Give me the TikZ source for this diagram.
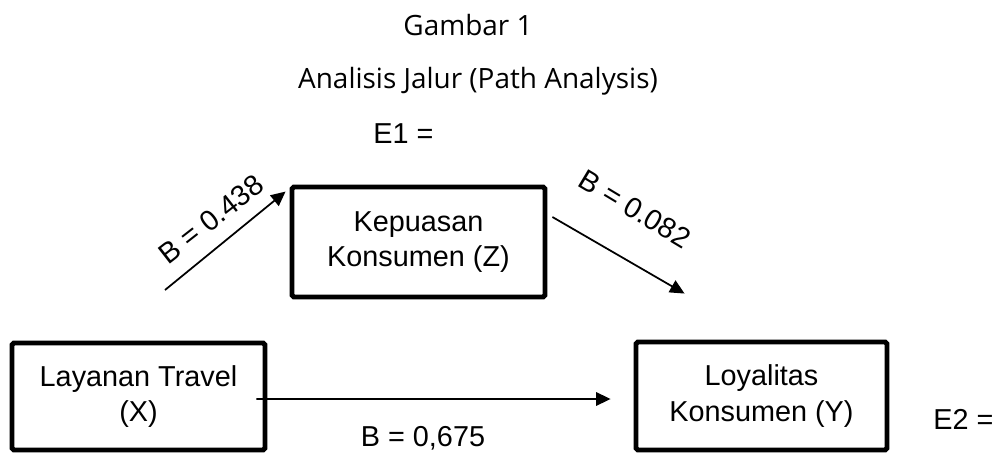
\documentclass[tikz,border=0pt]{standalone}
\usepackage{fontspec}
\setmainfont{Liberation Sans}
\newfontfamily\titlefont{Open Sans}
\usetikzlibrary{arrows.meta}
\tikzset{
  box/.style={draw, line width=2.8pt, rounded corners=1pt, align=center,
    font=\fontsize{16.4pt}{20.4pt}\selectfont, inner sep=0pt},
  arr/.style={line width=1pt, -{Triangle[length=0.29cm,width=0.27cm]}},
  lbl/.style={font=\fontsize{16.4pt}{20pt}\selectfont, inner sep=0pt},
  ttl/.style={font=\titlefont\fontsize{15.9pt}{19pt}\selectfont, inner sep=0pt, anchor=base}
}
\begin{document}
\begin{tikzpicture}[x=0.02cm,y=-0.02cm]
\useasboundingbox (0,0) rectangle (997,453);
\node[ttl] (t1) at (468,35) {Gambar 1};
\node[ttl] (t2) at (478,88) {Analisis Jalur (Path Analysis)};
\node[lbl, anchor=base west] (e1) at (373,143) {E1 =};
\node[box, minimum width=5.06cm, minimum height=2.2cm] (Z) at (418.5,242) {Kepuasan\\Konsumen (Z)};
\node[box, minimum width=5.06cm, minimum height=2.14cm] (X) at (138.5,396.5) {Layanan Travel\\(X)};
\node[box, minimum width=5.02cm, minimum height=2.16cm] (Y) at (761.5,396) {Loyalitas\\Konsumen (Y)};
\coordinate (s1) at (165,290);
\draw[arr] (s1) -- ([xshift=-0.08cm,yshift=-0.14cm]Z.north west);
\draw[arr] ([xshift=0.1cm,yshift=0.5cm]Z.east) -- ([xshift=1.02cm,yshift=0.92cm]Y.north west);
\draw[arr] ([xshift=-0.22cm,yshift=-0.05cm]X.east) -- ([xshift=-0.46cm,yshift=-0.06cm]Y.west);
\node[lbl, rotate=38] (b1) at (211,219) {B = 0.438};
\node[lbl, rotate=-31] (b2) at (635,209) {B = 0.082};
\node[lbl, anchor=base] (b3) at (423,446) {B = 0,675};
\node[lbl, anchor=base west] (e2) at (933,429) {E2 =};
\end{tikzpicture}
\end{document}
